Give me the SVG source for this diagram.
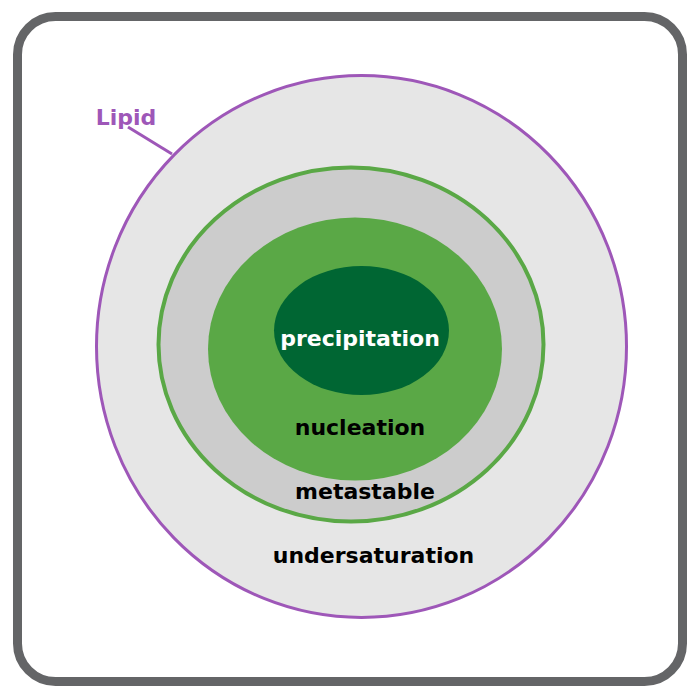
<svg xmlns="http://www.w3.org/2000/svg" width="700" height="700" viewBox="0 0 700 700">
<style>
.lbl{font-family:"DejaVu Sans","Liberation Sans",sans-serif;font-weight:bold;font-size:22px;text-anchor:middle}
</style>
<rect width="700" height="700" fill="#ffffff"/>
<g id="frame"><rect x="17.5" y="16.5" width="665" height="665" rx="38" ry="38" fill="#ffffff" stroke="#646567" stroke-width="9"/></g>
<g id="lipid"><ellipse cx="361.5" cy="346.5" rx="265" ry="271" fill="#e6e6e6" stroke="#9e57b8" stroke-width="3"/></g>
<g id="metastable"><ellipse cx="351" cy="344.5" rx="192.5" ry="177" fill="#cccccc" stroke="#5aa846" stroke-width="4"/></g>
<g id="nucleation"><ellipse cx="355" cy="349" rx="147" ry="131.5" fill="#5aa846"/></g>
<g id="precipitation"><ellipse cx="361.5" cy="330.5" rx="87.5" ry="64.5" fill="#006633"/></g>
<g id="connectors"><line x1="128" y1="127" x2="172" y2="154" stroke="#9e57b8" stroke-width="3"/></g>
<g id="labels">
<text class="lbl" x="360" y="346" fill="#ffffff">precipitation</text>
<text class="lbl" x="360" y="435" fill="#000000">nucleation</text>
<text class="lbl" x="365" y="499" fill="#000000">metastable</text>
<text class="lbl" x="373.5" y="563" fill="#000000">undersaturation</text>
<text class="lbl" x="126" y="125" fill="#9e57b8">Lipid</text>
</g>
</svg>
